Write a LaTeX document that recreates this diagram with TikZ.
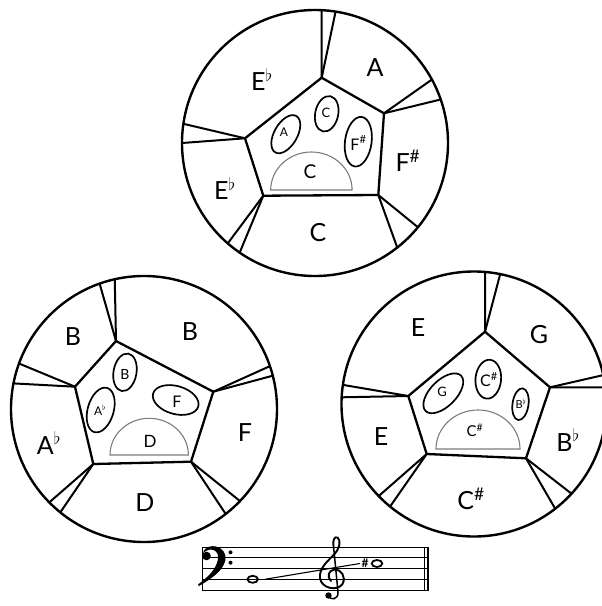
\documentclass[tikz,border=0pt]{standalone}
\usepackage{fontspec}
\setmainfont{Lato}
\usetikzlibrary{calc,shapes.geometric}
\definecolor{halfgray}{RGB}{125,125,125}
\tikzset{
  rim/.style={line width=2.4pt},
  pent/.style={line width=2.3pt, line join=round},
  spoke/.style={line width=2pt},
  oval/.style={line width=1.7pt},
  half/.style={line width=1.1pt, draw=halfgray},
  big/.style={inner sep=0pt, font=\fontsize{25}{25}\selectfont},
  staffline/.style={line width=1pt},
  notehead/.style={line width=1.8pt},
}
\newcommand{\fl}{\textsuperscript{$\flat$}}
\newcommand{\sh}{\textsuperscript{\#}}
\begin{document}
\begin{tikzpicture}[x=1pt,y=-1pt]
\useasboundingbox (0,0) rectangle (602,606);
\clip (0,0) rectangle (602,606);
% ---------------- top circle ----------------
\coordinate (c1) at (315,143);
\draw[rim] (c1) circle (133);
\coordinate (t1a) at (321.7,77.7);
\coordinate (t1b) at (384,113.3);
\coordinate (t1c) at (378.3,195);
\coordinate (t1d) at (263.3,195.7);
\coordinate (t1e) at (245,138.3);
\draw[pent] (t1a) -- (t1b) -- (t1c) -- (t1d) -- (t1e) -- cycle;
\draw[spoke] (t1a) -- ($(c1)+(-87.1:133)$);
\draw[spoke] (t1a) -- ($(c1)+(-81.1:133)$);
\draw[spoke] (t1b) -- ($(c1)+(-28.5:133)$);
\draw[spoke] (t1b) -- ($(c1)+(-19.1:133)$);
\draw[spoke] (t1c) -- ($(c1)+(39.3:133)$);
\draw[spoke] (t1c) -- ($(c1)+(51.8:133)$);
\draw[spoke] (t1d) -- ($(c1)+(131:133)$);
\draw[spoke] (t1d) -- ($(c1)+(124.5:133)$);
\draw[spoke] (t1e) -- ($(c1)+(-171.7:133)$);
\draw[spoke] (t1e) -- ($(c1)+(180:133)$);
\node[big] (l1a) at (262,80) {E\fl};
\node[big] (l1b) at (375,68) {A};
\node[big] (l1c) at (408,161) {F\sh};
\node[big] (l1d) at (225,189) {E\fl};
\node[big] (l1e) at (318,233) {C};
\draw[oval, rotate around={60:(285.8,134.2)}] (285.8,134.2) ellipse [x radius=21, y radius=11.5];
\draw[oval, rotate around={78:(326.7,113.8)}] (326.7,113.8) ellipse [x radius=18, y radius=11.5];
\draw[oval, rotate around={82:(358.3,141.7)}] (358.3,141.7) ellipse [x radius=25, y radius=13.3];
\draw[half] (270.7,190) arc[start angle=180, end angle=360, x radius=40.7, y radius=38] -- cycle;
\node[font=\fontsize{12}{12}\selectfont] (i1a) at (284,132) {A};
\node[font=\fontsize{13}{13}\selectfont] (i1b) at (326,113) {C};
\node[font=\fontsize{16}{16}\selectfont] (i1c) at (358.5,143) {F\sh};
\node[font=\fontsize{19}{19}\selectfont] (i1d) at (310,172) {C};
% ---------------- bottom-left circle ----------------
\coordinate (c2) at (144,409);
\draw[rim] (c2) circle (133);
\coordinate (t2a) at (116,341);
\coordinate (t2b) at (213.3,391.7);
\coordinate (t2c) at (191,461.7);
\coordinate (t2d) at (93.3,464);
\coordinate (t2e) at (75,386.7);
\draw[pent] (t2a) -- (t2b) -- (t2c) -- (t2d) -- (t2e) -- cycle;
\draw[spoke] (t2a) -- ($(c2)+(-109.5:133)$);
\draw[spoke] (t2a) -- ($(c2)+(-102.7:133)$);
\draw[spoke] (t2b) -- ($(c2)+(-18.8:133)$);
\draw[spoke] (t2b) -- ($(c2)+(-14.5:133)$);
\draw[spoke] (t2c) -- ($(c2)+(43.8:133)$);
\draw[spoke] (t2c) -- ($(c2)+(52.1:133)$);
\draw[spoke] (t2d) -- ($(c2)+(135.4:133)$);
\draw[spoke] (t2d) -- ($(c2)+(129:133)$);
\draw[spoke] (t2e) -- ($(c2)+(-160:133)$);
\draw[spoke] (t2e) -- ($(c2)+(-168.9:133)$);
\node[big] (l2a) at (73,337) {B};
\node[big] (l2b) at (190,332) {B};
\node[big] (l2c) at (245,433) {F};
\node[big] (l2d) at (49,443) {A\fl};
\node[big] (l2e) at (145,503) {D};
\draw[oval, rotate around={80:(125,372.3)}] (125,372.3) ellipse [x radius=19, y radius=11.5];
\draw[oval, rotate around={74:(100.7,410)}] (100.7,410) ellipse [x radius=23, y radius=13];
\draw[oval, rotate around={-16:(175.7,400)}] (175.7,400) ellipse [x radius=23.5, y radius=14];
\draw[half] (110,455) arc[start angle=180, end angle=360, x radius=39.2, y radius=36.7] -- cycle;
\node[font=\fontsize{14}{14}\selectfont] (i2a) at (125,374) {B};
\node[font=\fontsize{12}{12}\selectfont] (i2b) at (100,410) {A\fl};
\node[font=\fontsize{16}{16}\selectfont] (i2c) at (177,401.5) {F};
\node[font=\fontsize{17}{17}\selectfont] (i2d) at (150,441.5) {D};
% ---------------- bottom-right circle ----------------
\coordinate (c3) at (474,404);
\draw[rim] (c3) circle (132.5);
\coordinate (t3a) at (485,331.7);
\coordinate (t3b) at (550,387.3);
\coordinate (t3c) at (526,458.3);
\coordinate (t3d) at (426.7,454);
\coordinate (t3e) at (408.3,396);
\draw[pent] (t3a) -- (t3b) -- (t3c) -- (t3d) -- (t3e) -- cycle;
\draw[spoke] (t3a) -- ($(c3)+(-85.2:132.5)$);
\draw[spoke] (t3a) -- ($(c3)+(-78.6:132.5)$);
\draw[spoke] (t3b) -- ($(c3)+(-12.6:132.5)$);
\draw[spoke] (t3b) -- ($(c3)+(-7.2:132.5)$);
\draw[spoke] (t3c) -- ($(c3)+(42.6:132.5)$);
\draw[spoke] (t3c) -- ($(c3)+(52.2:132.5)$);
\draw[spoke] (t3d) -- ($(c3)+(136:132.5)$);
\draw[spoke] (t3d) -- ($(c3)+(129.3:132.5)$);
\draw[spoke] (t3e) -- ($(c3)+(-171.7:132.5)$);
\draw[spoke] (t3e) -- ($(c3)+(-177.1:132.5)$);
\node[big] (l3a) at (418,328) {E};
\node[big] (l3b) at (539,335) {G};
\node[big] (l3c) at (568,440) {B\fl};
\node[big] (l3d) at (381,437) {E};
\node[big] (l3e) at (471,499) {C\sh};
\draw[oval, rotate around={45:(443.3,393.3)}] (443.3,393.3) ellipse [x radius=25, y radius=13];
\draw[oval, rotate around={85:(488.3,379.2)}] (488.3,379.2) ellipse [x radius=19.5, y radius=12.8];
\draw[oval, rotate around={82:(520.5,404.2)}] (520.5,404.2) ellipse [x radius=16, y radius=8];
\draw[half] (436,449) arc[start angle=180, end angle=360, x radius=42, y radius=39] -- cycle;
\node[font=\fontsize{13}{13}\selectfont] (i3a) at (442,392) {G};
\node[font=\fontsize{16}{16}\selectfont] (i3b) at (489,379.5) {C\sh};
\node[font=\fontsize{11}{11}\selectfont] (i3c) at (521,403.5) {B\fl};
\node[font=\fontsize{15}{15}\selectfont] (i3d) at (475,430) {C\sh};
% ---------------- staff ----------------
\foreach \yy in {547,557.75,568.5,579.25,590}
  \draw[staffline] (202,\yy) -- (428.5,\yy);
\draw[staffline] (202,547) -- (202,590);
\draw[line width=1pt] (424.5,547) -- (424.5,590);
\draw[line width=2.2pt] (428,547) -- (428,590);
% bass clef
\fill (206.5,556) circle (4.3);
\fill (203,553) .. controls (205,546) and (212,545.5) .. (216,546.5)
  .. controls (223,548) and (226.5,554) .. (225.5,560)
  .. controls (223,571) and (211,579) .. (199,586) -- (198,584.5)
  .. controls (208,577) and (216.5,569) .. (218,559)
  .. controls (219,553) and (215,549) .. (210,549.5)
  .. controls (207,550) and (205,551.5) .. (203,553) -- cycle;
\fill (230.5,552.3) circle (2);
\fill (230.5,562.7) circle (2);
% treble clef
\fill (328.5,595.5) circle (3.2);
\draw[line width=1.5pt, line cap=round] (328,595)
  .. controls (330,601) and (338.5,600) .. (338,592)
  -- (333.5,546);
\draw[line width=1.9pt, line cap=round] (333.5,546)
  .. controls (332.5,539) and (335,536.5) .. (337.5,537.5)
  .. controls (341,540) and (340,548) .. (334.5,554)
  .. controls (327,562) and (319,568) .. (320,578)
  .. controls (321,588) and (337,592) .. (342.5,584)
  .. controls (346.5,577) and (341,569) .. (334.5,569.5)
  .. controls (328.5,570) and (326.5,577) .. (331,581);
% notes
\node[draw, notehead, ellipse, inner sep=0pt, minimum width=10.5pt, minimum height=7pt] (n1) at (252.7,579.3) {};
\node[inner sep=0pt, font=\fontsize{12}{12}\selectfont\bfseries] (s2) at (365,563.5) {\#};
\node[draw, notehead, ellipse, inner sep=0pt, minimum width=10.5pt, minimum height=7pt] (n2) at (377,563.5) {};
\draw[line width=1.1pt] ([xshift=6pt]n1.east) -- ([xshift=-1.5pt]s2.west);
\end{tikzpicture}
\end{document}
